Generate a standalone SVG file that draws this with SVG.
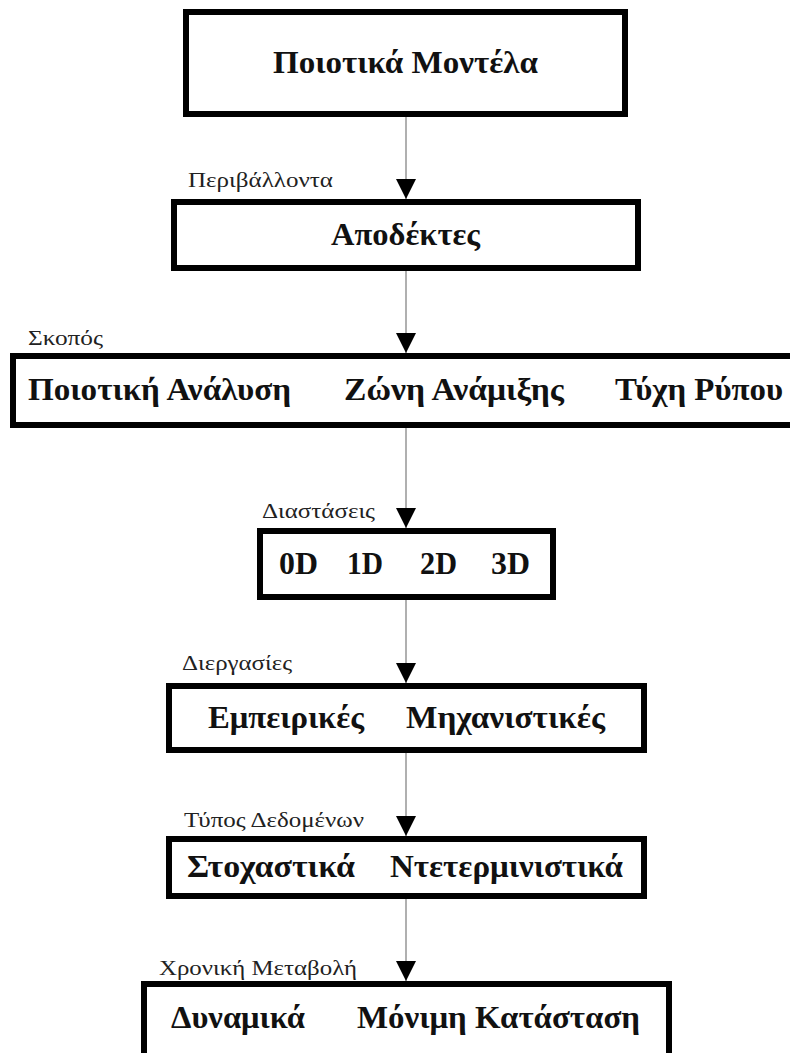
<svg xmlns="http://www.w3.org/2000/svg" width="790" height="1053" viewBox="0 0 790 1053">
<style>
.box{fill:#fff;stroke:#000;stroke-width:6}
.t{font-family:"Liberation Serif","DejaVu Serif",serif;font-weight:bold;font-size:31px;fill:#111}
.l{font-family:"Liberation Serif","DejaVu Serif",serif;font-size:22px;fill:#222}
.c{stroke:#b0b0b0;stroke-width:2;fill:none;marker-end:url(#arr)}
</style>
<defs>
<marker id="arr" markerUnits="userSpaceOnUse" markerWidth="20" markerHeight="20" viewBox="0 0 20 20" refX="20" refY="10" orient="auto">
<path d="M0,0 L20,10 L0,20 z" fill="#000"/>
</marker>
</defs>
<rect width="790" height="1053" fill="#fff"/>
<g id="connectors">
<line class="c" x1="406" y1="117" x2="406" y2="199"/>
<line class="c" x1="406" y1="271" x2="406" y2="353"/>
<line class="c" x1="406" y1="428" x2="406" y2="528"/>
<line class="c" x1="406" y1="600" x2="406" y2="683"/>
<line class="c" x1="406" y1="753" x2="406" y2="836"/>
<line class="c" x1="406" y1="899" x2="406" y2="981"/>
</g>
<g id="node-models">
<rect class="box" x="186" y="12" width="439" height="102"/>
<text class="t" x="273" y="73" textLength="265" lengthAdjust="spacingAndGlyphs">Ποιοτικά Μοντέλα</text>
</g>
<g id="node-receivers">
<text class="l" x="188" y="187" textLength="145" lengthAdjust="spacingAndGlyphs">Περιβάλλοντα</text>
<rect class="box" x="174" y="202" width="464" height="66"/>
<text class="t" x="331" y="245" textLength="149" lengthAdjust="spacingAndGlyphs">Αποδέκτες</text>
</g>
<g id="node-purpose">
<text class="l" x="28" y="345" textLength="75" lengthAdjust="spacingAndGlyphs">Σκοπός</text>
<rect class="box" x="13" y="356" width="800" height="69"/>
<text class="t" x="28" y="400" textLength="263" lengthAdjust="spacingAndGlyphs">Ποιοτική Ανάλυση</text>
<text class="t" x="344" y="400" textLength="220" lengthAdjust="spacingAndGlyphs">Ζώνη Ανάμιξης</text>
<text class="t" x="615" y="400" textLength="168" lengthAdjust="spacingAndGlyphs">Τύχη Ρύπου</text>
</g>
<g id="node-dimensions">
<text class="l" x="262" y="518" textLength="113" lengthAdjust="spacingAndGlyphs">Διαστάσεις</text>
<rect class="box" x="260" y="531" width="293" height="66"/>
<text class="t" x="279" y="574" textLength="39" lengthAdjust="spacingAndGlyphs">0D</text>
<text class="t" x="347" y="574" textLength="36" lengthAdjust="spacingAndGlyphs">1D</text>
<text class="t" x="420" y="574" textLength="37" lengthAdjust="spacingAndGlyphs">2D</text>
<text class="t" x="491" y="574" textLength="39" lengthAdjust="spacingAndGlyphs">3D</text>
</g>
<g id="node-processes">
<text class="l" x="182" y="670" textLength="110" lengthAdjust="spacingAndGlyphs">Διεργασίες</text>
<rect class="box" x="169" y="686" width="475" height="64"/>
<text class="t" x="208" y="728" textLength="156" lengthAdjust="spacingAndGlyphs">Εμπειρικές</text>
<text class="t" x="406" y="728" textLength="199" lengthAdjust="spacingAndGlyphs">Μηχανιστικές</text>
</g>
<g id="node-datatype">
<text class="l" x="184" y="827" textLength="180" lengthAdjust="spacingAndGlyphs">Τύπος Δεδομένων</text>
<rect class="box" x="169" y="839" width="475" height="57"/>
<text class="t" x="187" y="877" textLength="168" lengthAdjust="spacingAndGlyphs">Στοχαστικά</text>
<text class="t" x="390" y="877" textLength="233" lengthAdjust="spacingAndGlyphs">Ντετερμινιστικά</text>
</g>
<g id="node-temporal">
<text class="l" x="159" y="975" textLength="198" lengthAdjust="spacingAndGlyphs">Χρονική Μεταβολή</text>
<rect class="box" x="144" y="984" width="525" height="80"/>
<text class="t" x="171" y="1028" textLength="134" lengthAdjust="spacingAndGlyphs">Δυναμικά</text>
<text class="t" x="357" y="1028" textLength="283" lengthAdjust="spacingAndGlyphs">Μόνιμη Κατάσταση</text>
</g>
</svg>
